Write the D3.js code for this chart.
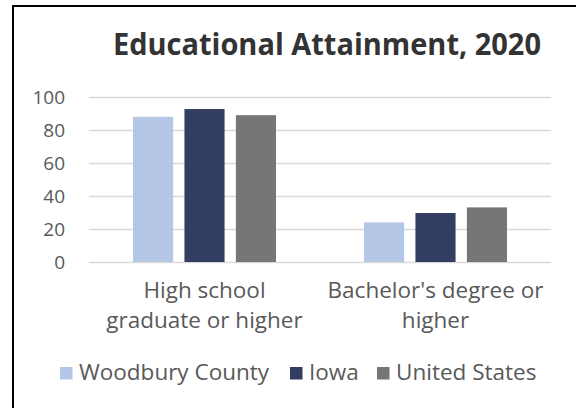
<!DOCTYPE html>
<html><head><meta charset="utf-8">
<script src="https://cdn.jsdelivr.net/npm/d3@7"></script>
<style>html,body{margin:0;padding:0;background:#fff;} svg{display:block;}</style>
</head><body>
<svg id="chart" width="576" height="408"></svg>
<script>
const categories = [["High school", "graduate or higher"], ["Bachelor's degree or", "higher"]];
const seriesNames = ["Woodbury County", "Iowa", "United States"];
const woodbury = [88.0, 24.0];
const iowa = [92.7, 29.7];
const unitedStates = [89.0, 33.1];
const yTicks = [0, 20, 40, 60, 80, 100];
const colors = ["#B4C7E7", "#333D62", "#767676"];

(function () {
const series = [woodbury, iowa, unitedStates];
const font = "'Open Sans', 'Noto Sans', sans-serif";
const svg = d3.select("#chart");

// frame
svg.append("path").attr("d", "M13,420 L13,6 L590,6").attr("fill", "none").attr("stroke", "#000").attr("stroke-width", 2);

const pLeft = 89, pRight = 551, pTop = 97, pBottom = 262;
const x0 = d3.scaleBand().domain(d3.range(categories.length)).range([pLeft, pRight]).paddingInner(0).paddingOuter(0);
const x1 = d3.scaleBand().domain(d3.range(series.length)).range([0, 143]).paddingInner(0.22);
const y = d3.scaleLinear().domain([0, 100]).range([pBottom, pTop]);

// title
svg.append("text").attr("x", 113).attr("y", 55)
  .attr("font-family", font).attr("font-weight", 700).attr("font-size", 30)
  .attr("textLength", 428).attr("lengthAdjust", "spacingAndGlyphs")
  .attr("fill", "#333333").text("Educational Attainment, 2020");

// gridlines
svg.append("g").selectAll("line").data(yTicks).join("line")
  .attr("x1", pLeft).attr("x2", pRight).attr("y1", d => Math.round(y(d)) + 0.5).attr("y2", d => Math.round(y(d)) + 0.5)
  .attr("stroke", "#D9D9D9").attr("stroke-width", 1.3);

// y axis labels
const yAxis = d3.axisLeft(y).tickValues(yTicks).tickSize(0).tickPadding(0);
const ya = svg.append("g").attr("transform", `translate(65,0)`).call(yAxis);
ya.select(".domain").remove();
ya.selectAll("text").attr("font-family", font).attr("font-size", 19).attr("fill", "#595959").attr("dy", "0.36em");

// bars
categories.forEach((c, ci) => {
  const gx = x0(ci) + (x0.bandwidth() - 143) / 2;
  series.forEach((s, si) => {
    svg.append("rect").attr("x", gx + x1(si)).attr("width", x1.bandwidth())
      .attr("y", y(s[ci])).attr("height", y(0) - y(s[ci])).attr("fill", colors[si]);
  });
  c.forEach((line, li) => {
    svg.append("text").attr("x", x0(ci) + x0.bandwidth() / 2).attr("y", 298 + li * 30)
      .attr("text-anchor", "middle").attr("font-family", font).attr("font-size", 22.5)
      .attr("fill", "#595959").text(line);
  });
});

// legend
const legendX = [60, 290, 377];
seriesNames.forEach((n, i) => {
  svg.append("rect").attr("x", legendX[i]).attr("y", 367).attr("width", 12.5).attr("height", 12.5).attr("fill", colors[i]);
  svg.append("text").attr("x", legendX[i] + 19).attr("y", 379.5).attr("font-family", font).attr("font-size", 22.5)
    .attr("fill", "#595959").text(n);
});
})();
</script>
</body></html>
